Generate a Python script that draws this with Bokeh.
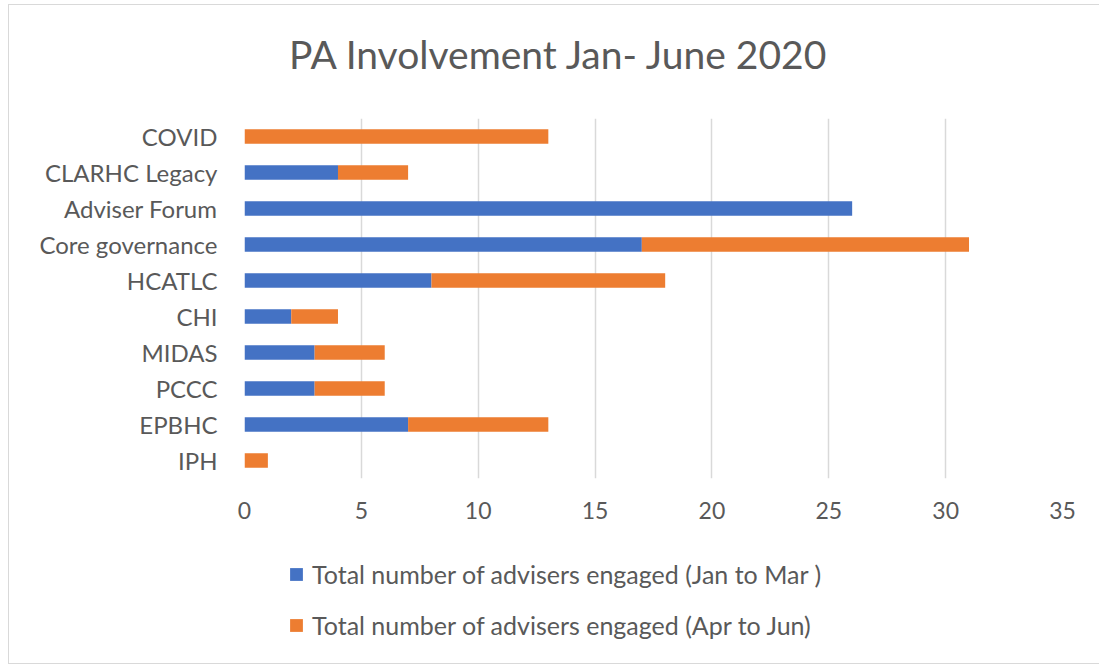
from bokeh.plotting import figure
from bokeh.layouts import column
from bokeh.models import FactorRange, Range1d, FixedTicker, Legend, Label, ColumnDataSource
from bokeh.embed import file_html
from bokeh.resources import INLINE

categories = ["COVID", "CLARHC Legacy", "Adviser Forum", "Core governance", "HCATLC",
              "CHI", "MIDAS", "PCCC", "EPBHC", "IPH"]
jan_mar = [0, 4, 26, 17, 8, 2, 3, 3, 7, 0]
apr_jun = [13, 3, 0, 14, 10, 2, 3, 3, 6, 1]
series_names = ["Total number of advisers engaged (Jan to Mar )",
                "Total number of advisers engaged (Apr to Jun)"]
x_ticks = [0, 5, 10, 15, 20, 25, 30, 35]
title_text = "PA Involvement Jan- June 2020"

FONT = "Lato"
GRAY = "#595959"
BLUE = "#4472C4"
ORANGE = "#ED7D31"
BORDER = dict(min_border_left=235, min_border_right=37)

src = ColumnDataSource(dict(cat=categories, jan=jan_mar, apr=apr_jun))


def strip(height, **kw):
    f = figure(frame_width=818, frame_height=height, min_border_top=0, min_border_bottom=0,
               x_axis_location=None, y_axis_location=None,
               output_backend="svg", toolbar_location=None, **BORDER, **kw)
    f.grid.grid_line_color = None
    f.outline_line_color = None
    return f


# ---- title strip ----
tf = strip(80, x_range=Range1d(0, 1), y_range=Range1d(0, 1))
tf.add_layout(Label(x=315, y=32, x_units="screen", y_units="screen", text=title_text,
                    text_align="center", text_baseline="middle",
                    text_font=FONT, text_font_size="39px", text_color=GRAY))

# ---- main chart ----
p = figure(frame_width=818, frame_height=360, min_border_top=33, min_border_bottom=60,
           y_range=FactorRange(factors=categories[::-1], range_padding=0),
           x_range=Range1d(0, 35),
           output_backend="svg", toolbar_location=None, **BORDER)

p.hbar_stack(["jan", "apr"], y="cat", height=0.4, source=src,
             color=[BLUE, ORANGE], line_color=None)

p.xaxis.ticker = FixedTicker(ticks=x_ticks)
p.xaxis.axis_line_color = None
p.xaxis.major_tick_line_color = None
p.xaxis.minor_tick_line_color = None
p.xaxis.major_label_standoff = 17
p.xaxis.major_label_text_font = FONT
p.xaxis.major_label_text_font_size = "23px"
p.xaxis.major_label_text_color = GRAY

p.yaxis.axis_line_color = None
p.yaxis.major_tick_line_color = None
p.yaxis.minor_tick_line_color = None
p.yaxis.major_label_standoff = 21
p.yaxis.major_label_text_font = FONT
p.yaxis.major_label_text_font_size = "24px"
p.yaxis.major_label_text_color = GRAY

p.ygrid.grid_line_color = None
p.xgrid.grid_line_color = "#D9D9D9"
p.xgrid.grid_line_width = 1.5
p.outline_line_color = None

# ---- legend strip (same series, drawn with zero height so only the legend shows) ----
lf = strip(125, x_range=Range1d(-2, -1),
           y_range=FactorRange(factors=categories[::-1], range_padding=0))
lrs = lf.hbar_stack(["jan", "apr"], y="cat", height=1e-9, source=src,
                    color=[BLUE, ORANGE], line_color=None)
legend = Legend(items=[(series_names[0], [lrs[0]]), (series_names[1], [lrs[1]])],
                location=(44, 23), orientation="vertical",
                padding=0, margin=0, spacing=21,
                glyph_width=16, glyph_height=16, label_height=30, label_standoff=8,
                label_text_font=FONT, label_text_font_size="25px", label_text_color=GRAY,
                border_line_color=None, background_fill_alpha=0)
lf.add_layout(legend, "center")

layout = column(tf, p, lf, spacing=0)
layout.margin = (4, 0, 0, 8)
layout.styles = {"border-left": "1px solid #D9D9D9", "border-top": "1px solid #D9D9D9",
                 "border-bottom": "1px solid #D9D9D9"}

open("out.html", "w").write(file_html(layout, INLINE))
